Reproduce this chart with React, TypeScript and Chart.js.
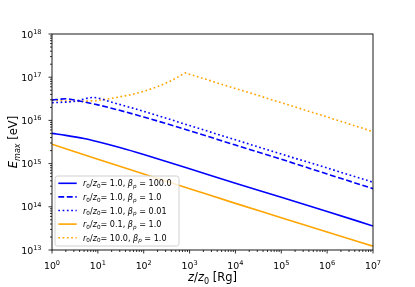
import React, { useEffect, useRef } from 'react';
import { Chart, registerables } from 'chart.js';
Chart.register(...registerables);

const BLUE = '#0000ff';
const ORANGE = '#ffa500';

// r0/z0 = 1.0, beta_p = 100.0
const xBeta100 = [1, 2, 5, 10, 30, 100, 1000, 1e4, 1e5, 1e6, 1e7];
const yBeta100 = [5.0e15, 4.5e15, 3.8e15, 3.2e15, 2.35e15, 1.62e15, 7.6e14, 3.5e14, 1.66e14, 7.8e13, 3.6e13];
// r0/z0 = 1.0, beta_p = 1.0
const xBeta1 = [1, 2, 4, 10, 100, 1000, 1e4, 1e5, 1e6, 1e7];
const yBeta1 = [2.95e16, 3.16e16, 2.8e16, 2.29e16, 1.2e16, 5.75e15, 2.69e15, 1.26e15, 5.75e14, 2.63e14];
// r0/z0 = 1.0, beta_p = 0.01
const xBeta001 = [1, 3, 8, 20, 100, 1000, 1e4, 1e5, 1e6, 1e7];
const yBeta001 = [2.57e16, 2.75e16, 3.39e16, 2.63e16, 1.62e16, 7.6e15, 3.55e15, 1.66e15, 7.9e14, 3.7e14];
// r0/z0 = 0.1, beta_p = 1.0
const xR01 = [1, 10, 100, 1000, 1e4, 1e5, 1e6, 1e7];
const yR01 = [2.8e15, 1.26e15, 5.75e14, 2.63e14, 1.2e14, 5.6e13, 2.6e13, 1.23e13];
// r0/z0 = 10.0, beta_p = 1.0
const xR10 = [1, 2, 4, 10, 20, 50, 100, 200, 400, 800, 3000, 1e4, 1e5, 1e6, 1e7];
const yR10 = [2.95e16, 2.82e16, 2.75e16, 2.88e16, 3.24e16, 3.89e16, 4.68e16, 6.03e16, 8.3e16, 1.26e17, 8.13e16, 5.5e16, 2.57e16, 1.2e16, 5.5e15];

const xTickExps = [0, 1, 2, 3, 4, 5, 6, 7];
const yTickExps = [13, 14, 15, 16, 17, 18];
const legendRatios = ['1.0', '1.0', '1.0', '0.1', '10.0'];
const legendBetas = ['100.0', '1.0', '0.01', '1.0', '1.0'];

const FONT = '"DejaVu Sans"';
const LW = 1.6;
const DASHED = [5.9, 2.6];
const DOTTED = [1.7, 2.6];

type Run = { t: string; it?: boolean; sub?: boolean; sup?: boolean };

function drawRuns(ctx: CanvasRenderingContext2D, runs: Run[], x: number, y: number, size: number, draw = true): number {
  let cx = x;
  for (const r of runs) {
    const s = r.sub || r.sup ? size * 0.7 : size;
    ctx.font = `${r.it ? 'italic ' : ''}${s}px ${FONT}`;
    const dy = r.sub ? size * 0.22 : r.sup ? -size * 0.38 : 0;
    if (draw) ctx.fillText(r.t, cx, y + dy);
    cx += ctx.measureText(r.t).width;
  }
  return cx - x;
}

const mplPlugin = {
  id: 'mplAxes',
  afterDraw(chart: any) {
    const ctx: CanvasRenderingContext2D = chart.ctx;
    const { left, right, top, bottom } = chart.chartArea;
    const xs = chart.scales.x;
    const ys = chart.scales.y;
    ctx.save();
    ctx.textAlign = 'left';
    ctx.textBaseline = 'alphabetic';
    ctx.fillStyle = '#000';
    ctx.strokeStyle = '#000';

    // ticks
    ctx.lineWidth = 0.8;
    const tick = (x1: number, y1: number, x2: number, y2: number) => {
      ctx.beginPath();
      ctx.moveTo(x1, y1);
      ctx.lineTo(x2, y2);
      ctx.stroke();
    };
    for (const e of xTickExps) {
      const px = xs.getPixelForValue(Math.pow(10, e));
      tick(px, bottom, px, bottom + 3.5);
      if (e < xTickExps[xTickExps.length - 1]) {
        for (let m = 2; m <= 9; m++) {
          const mx = xs.getPixelForValue(m * Math.pow(10, e));
          tick(mx, bottom, mx, bottom + 2);
        }
      }
    }
    for (const e of yTickExps) {
      const py = ys.getPixelForValue(Math.pow(10, e));
      tick(left, py, left - 3.5, py);
      if (e < yTickExps[yTickExps.length - 1]) {
        for (let m = 2; m <= 9; m++) {
          const my = ys.getPixelForValue(m * Math.pow(10, e));
          tick(left, my, left - 2, my);
        }
      }
    }

    // frame
    ctx.lineWidth = 0.9;
    ctx.strokeRect(left, top, right - left, bottom - top);

    // tick labels
    const TS = 9.4;
    for (const e of xTickExps) {
      const px = xs.getPixelForValue(Math.pow(10, e));
      const runs: Run[] = [{ t: '10' }, { t: String(e), sup: true }];
      const w = drawRuns(ctx, runs, 0, 0, TS, false);
      drawRuns(ctx, runs, px - w / 2, 268.5, TS);
    }
    for (const e of yTickExps) {
      const py = ys.getPixelForValue(Math.pow(10, e));
      const runs: Run[] = [{ t: '10' }, { t: String(e), sup: true }];
      const w = drawRuns(ctx, runs, 0, 0, TS, false);
      drawRuns(ctx, runs, 41.5 - w, py + 3.5, TS);
    }

    // axis titles
    const AS = 11.5;
    const xTitle: Run[] = [{ t: 'z', it: true }, { t: '/' }, { t: 'z', it: true }, { t: '0', sub: true }, { t: ' [Rg]' }];
    const xw = drawRuns(ctx, xTitle, 0, 0, AS, false);
    drawRuns(ctx, xTitle, (left + right) / 2 - xw / 2, 281, AS);

    const yTitle: Run[] = [{ t: 'E', it: true }, { t: 'max', it: true, sub: true }, { t: ' [eV]' }];
    const yw = drawRuns(ctx, yTitle, 0, 0, AS, false);
    ctx.save();
    ctx.translate(17.3, (top + bottom) / 2);
    ctx.rotate(-Math.PI / 2);
    drawRuns(ctx, yTitle, -yw / 2, 0, AS);
    ctx.restore();

    // legend
    const lx = 55, ly = 176, lw = 124, lh = 70, r = 2.5;
    ctx.beginPath();
    ctx.moveTo(lx + r, ly);
    ctx.arcTo(lx + lw, ly, lx + lw, ly + lh, r);
    ctx.arcTo(lx + lw, ly + lh, lx, ly + lh, r);
    ctx.arcTo(lx, ly + lh, lx, ly, r);
    ctx.arcTo(lx, ly, lx + lw, ly, r);
    ctx.closePath();
    ctx.fillStyle = 'rgba(255,255,255,0.8)';
    ctx.fill();
    ctx.strokeStyle = '#d0d0d0';
    ctx.lineWidth = 1;
    ctx.stroke();

    const LS = 8.1;
    const rowY = [183.3, 196.9, 210.5, 224.1, 237.7];
    chart.data.datasets.forEach((ds: any, i: number) => {
      const cy = rowY[i];
      ctx.strokeStyle = ds.borderColor;
      ctx.lineWidth = ds.borderWidth;
      ctx.lineCap = 'butt';
      ctx.setLineDash(ds.borderDash || []);
      ctx.beginPath();
      ctx.moveTo(58.3, cy);
      ctx.lineTo(76.7, cy);
      ctx.stroke();
      ctx.setLineDash([]);
      ctx.fillStyle = '#000';
      const runs: Run[] = [
        { t: 'r', it: true }, { t: '0', sub: true }, { t: '/' }, { t: 'z', it: true }, { t: '0', sub: true },
        { t: '= ' + legendRatios[i] + ', ' }, { t: 'β', it: true }, { t: 'p', it: true, sub: true },
        { t: ' = ' + legendBetas[i] },
      ];
      drawRuns(ctx, runs, 83, cy + 3, LS);
    });

    ctx.restore();
  },
};

const mk = (label: string, xsArr: number[], ysArr: number[], color: string, dash: number[], smooth = true) => ({
  label,
  data: xsArr.map((x, i) => ({ x, y: ysArr[i] })),
  borderColor: color,
  backgroundColor: color,
  borderWidth: LW,
  borderDash: dash,
  borderCapStyle: 'butt',
  borderJoinStyle: 'round',
  pointRadius: 0,
  fill: false,
  tension: 0,
  cubicInterpolationMode: smooth ? 'monotone' : 'default',
});

export default function App() {
  const ref = useRef<HTMLCanvasElement>(null);
  useEffect(() => {
    document.body.style.margin = '0';
    const chart = new Chart(ref.current!, {
      type: 'line',
      data: {
        datasets: [
          mk('r0/z0= 1.0, βp = 100.0', xBeta100, yBeta100, BLUE, []),
          mk('r0/z0= 1.0, βp = 1.0', xBeta1, yBeta1, BLUE, DASHED),
          mk('r0/z0= 1.0, βp = 0.01', xBeta001, yBeta001, BLUE, DOTTED),
          mk('r0/z0= 0.1, βp = 1.0', xR01, yR01, ORANGE, []),
          mk('r0/z0= 10.0, βp = 1.0', xR10, yR10, ORANGE, DOTTED, false),
        ] as any,
      },
      options: {
        responsive: false,
        animation: false,
        devicePixelRatio: 1,
        layout: { padding: { left: 52, right: 42, top: 34, bottom: 37 } },
        plugins: { legend: { display: false }, tooltip: { enabled: false } },
        scales: {
          x: { type: 'logarithmic', min: 1, max: 1e7, display: false },
          y: { type: 'logarithmic', min: 1e13, max: 1e18, display: false },
        },
      } as any,
      plugins: [mplPlugin],
    });
    return () => chart.destroy();
  }, []);
  return (
    <div style={{ position: 'fixed', left: 0, top: 0, width: 415, height: 287, background: '#fff' }}>
      <canvas ref={ref} width={415} height={287} style={{ display: 'block' }} />
    </div>
  );
}
